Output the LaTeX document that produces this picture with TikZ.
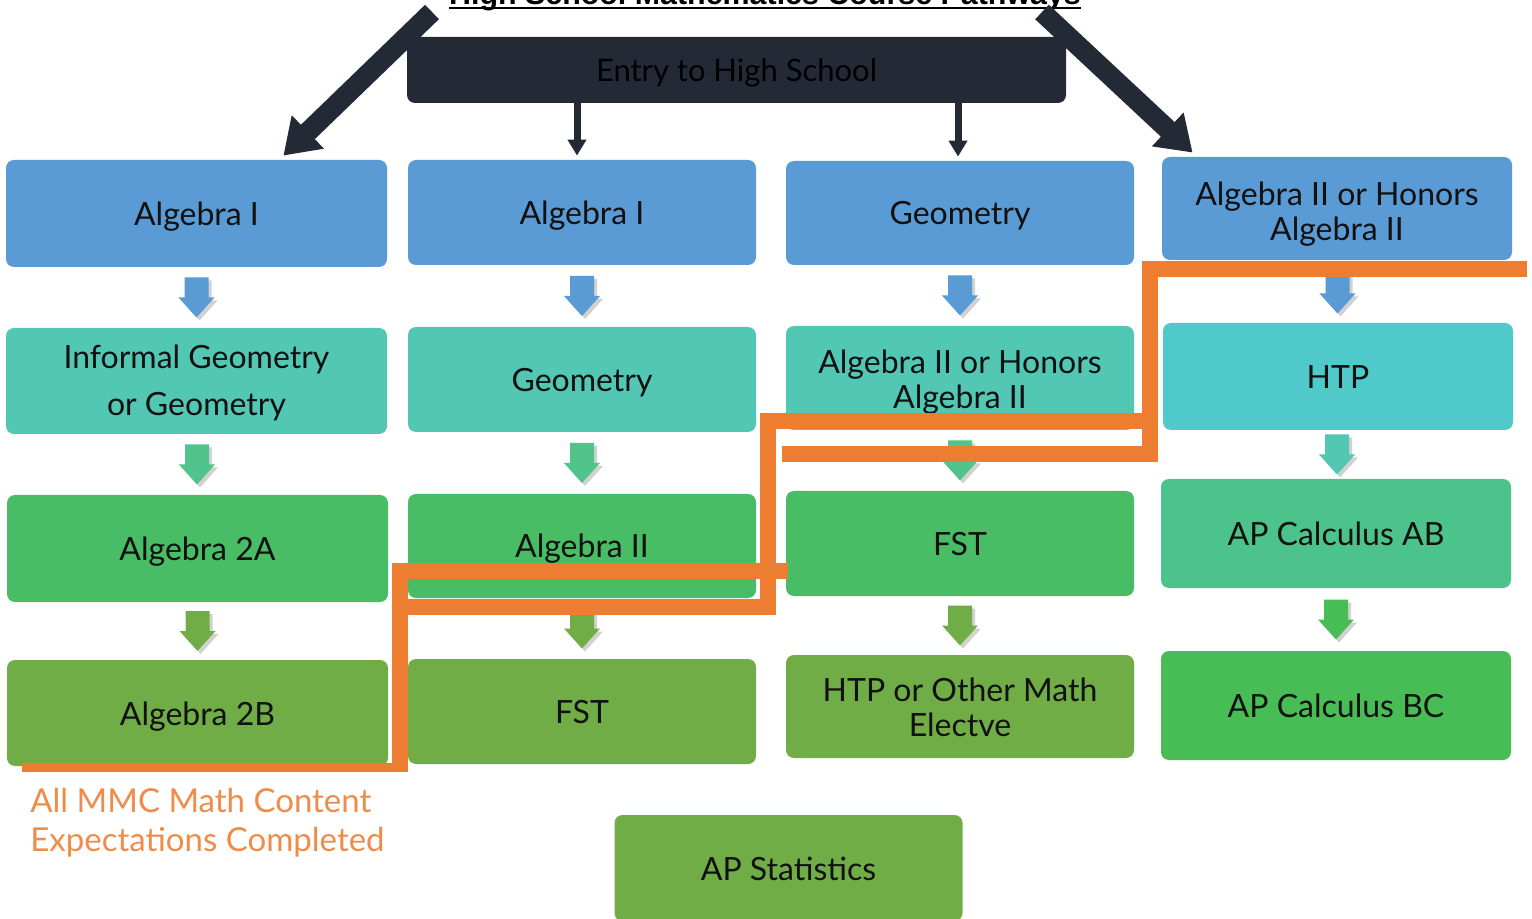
\documentclass[tikz,border=0pt]{standalone}
\usepackage{fontspec}
\setmainfont{Lato}
\newfontfamily\titlefont{Liberation Sans}
\usetikzlibrary{arrows.meta,calc}
\definecolor{dark}{HTML}{232A35}
\definecolor{blue1}{HTML}{5B9BD5}
\definecolor{teal1}{HTML}{52C8B4}
\definecolor{cyan1}{HTML}{4FC9CA}
\definecolor{green1}{HTML}{48BD65}
\definecolor{green2}{HTML}{4CC38B}
\definecolor{olive1}{HTML}{70AD47}
\definecolor{green3}{HTML}{48BC55}
\definecolor{tealgreen}{HTML}{50C48A}
\definecolor{orng}{HTML}{ED7D31}
\definecolor{orngtxt}{HTML}{F08C4A}
\definecolor{txt}{HTML}{111111}
\newcommand{\lift}[1]{\rule{0pt}{#1}}
\tikzset{
  course/.style={rounded corners=4pt, inner sep=0pt, align=center, text=txt,
    font=\fontsize{16}{17.5}\selectfont,
    execute at begin node={\rule[-3.5pt]{0pt}{19pt}}},
  wA/.style={minimum width=190.5pt},
  wB/.style={minimum width=174pt},
  wD/.style={minimum width=175pt},
  barrow/.pic={
    \fill[black,opacity=0.18] (-9,-17) -- (15,-17) -- (15,3) -- (21,3) -- (3,23) -- (-15,3) -- (-9,3) -- cycle;
    \fill[#1] (-12,-20) -- (12,-20) -- (12,0) -- (18,0) -- (0,20) -- (-18,0) -- (-12,0) -- cycle;
  },
  bigdark/.style={draw=dark, line width=10pt, -{Triangle[length=17pt,width=22pt]}},
  smalldark/.style={draw=dark, line width=3.5pt, -{Triangle[length=8pt,width=9pt]}},
  orangeline/.style={draw=orng, line width=8pt, miter limit=10},
}
\begin{document}
\begin{tikzpicture}[x=0.5pt,y=-0.5pt]
\useasboundingbox (0,0) rectangle (1532,919);
\fill[white] (0,0) rectangle (1532,919);
\begin{scope}
\clip (0,0) rectangle (1532,919);

% title (cut off at the top)
\node[inner sep=0pt, anchor=base, font=\titlefont\bfseries\fontsize{15.2}{18}\selectfont] (title) at (765,5) {High School Mathematics Course Pathways};
\draw[line width=1.3pt] ($(title.base west)+(0,3)$) -- ($(title.base east)+(0,3)$);

% entry box
\node[course, fill=dark, text=black, minimum width=329.5pt, minimum height=33pt, font=\fontsize{15.5}{17}\selectfont] (entry) at (736.5,70) {Entry to High School};

% column 1
\node[course, wA, fill=blue1, minimum height=53.5pt] (a1) at (196.5,213.5) {Algebra I};
\node[course, wA, fill=teal1, minimum height=53pt, font=\fontsize{16}{23.5}\selectfont] (a2) at (196.5,381) {\lift{14.5pt}Informal Geometry\\or Geometry};
\node[course, wA, fill=green1, minimum height=53.5pt] (a3) at (197.5,548.5) {Algebra 2A};
\node[course, wA, fill=olive1, minimum height=53pt] (a4) at (197.5,713) {Algebra 2B};

% column 2
\node[course, wB, fill=blue1, minimum height=52.5pt] (b1) at (582,212.5) {Algebra I};
\node[course, wB, fill=teal1, minimum height=52.5pt] (b2) at (582,379.5) {Geometry};
\node[course, wB, fill=green1, minimum height=52pt] (b3) at (582,546) {Algebra II};
\node[course, wB, fill=olive1, minimum height=52.5pt] (b4) at (582,711.5) {FST};

% column 3
\node[course, wB, fill=blue1, minimum height=52pt] (c1) at (960,213) {Geometry};
\node[course, wB, fill=teal1, minimum height=52pt] (c2) at (960,378) {\lift{17pt}Algebra II or Honors\\Algebra II};
\node[course, wB, fill=green1, minimum height=52.5pt] (c3) at (960,543.5) {FST};
\node[course, wB, fill=olive1, minimum height=51.5pt] (c4) at (960,706.5) {\lift{16pt}HTP or Other Math\\Electve};

% column 4
\node[course, wD, fill=blue1, minimum height=51.5pt] (d1) at (1337,208.5) {\lift{18pt}Algebra II or Honors\\Algebra II};
\node[course, wD, fill=cyan1, minimum height=53.5pt] (d2) at (1338,376.5) {HTP};
\node[course, wD, fill=green2, minimum height=54.5pt] (d3) at (1336,533.5) {AP Calculus AB};
\node[course, wD, fill=green3, minimum height=54.5pt] (d4) at (1336,705.5) {AP Calculus BC};

% AP Statistics
\node[course, wB, fill=olive1, minimum height=53pt] (st) at (788.5,868) {AP Statistics};

% block arrows
\pic at ($(a1.south)!0.5!(a2.north)$) {barrow=blue1};
\pic at ($(a2.south)!0.5!(a3.north)$) {barrow=tealgreen};
\pic at ($(a3.south)!0.5!(a4.north)$) {barrow=olive1};
\pic at ($(b1.south)!0.5!(b2.north)$) {barrow=blue1};
\pic at ($(b2.south)!0.5!(b3.north)$) {barrow=tealgreen};
\pic at ($(b3.south)!0.5!(b4.north)$) {barrow=olive1};
\pic at ($(c1.south)!0.5!(c2.north)$) {barrow=blue1};
\pic at ($(c2.south)!0.5!(c3.north)$) {barrow=tealgreen};
\pic at ($(c3.south)!0.5!(c4.north)$) {barrow=olive1};
\pic at ($(d1.south)!0.5!(d2.north)+(0,2)$) {barrow=blue1};
\pic at ($(d2.south)!0.5!(d3.north)$) {barrow=teal1};
\pic at ($(d3.south)!0.5!(d4.north)$) {barrow=green3};

% dark arrows from entry
\coordinate (lt) at (432,12);
\coordinate (rt) at (1042,12);
\draw[bigdark] (lt) -- ($(a1.north east)+(-104,-4)$);
\draw[bigdark] (rt) -- ($(d1.north west)+(31,-4)$);
\draw[smalldark] ([xshift=-2.5pt]entry.south -| b1.north) -- ([xshift=-2.5pt,yshift=2pt]b1.north);
\draw[smalldark] ([xshift=-1pt]entry.south -| c1.north) -- ([xshift=-1pt,yshift=2pt]c1.north);

% orange boundary lines
\draw[orangeline] (1527,269) -- (1150,269) -- (1150,454.5) -- (782,454.5);
\draw[orangeline] (1143,421) -- (768,421) -- (768,607) -- (408,607);
\draw[orangeline] (788,571) -- (400,571) -- (400,772);
\fill[orng] (22,763) rectangle (408,772);

\node[text=orngtxt, align=left, anchor=north west, inner sep=0pt, font=\fontsize{16.5}{19.5}\selectfont] (mmc) at (30,788) {All MMC Math Content\\Expectations Completed};
\end{scope}
\end{tikzpicture}
\end{document}
